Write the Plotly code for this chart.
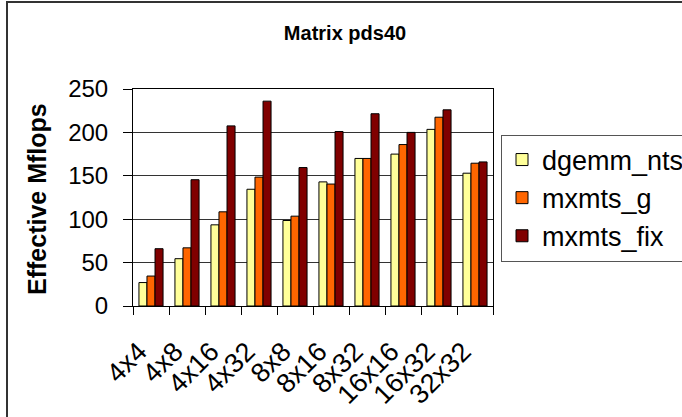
import plotly.graph_objects as go

# Blocking sizes and effective Mflop rates for matrix pds40
categories = ["4x4", "4x8", "4x16", "4x32", "8x8", "8x16", "8x32", "16x16", "16x32", "32x32"]
dgemm_nts = [27, 54.5, 93.5, 134.5, 98.5, 143, 170, 175, 203.5, 153]
mxmts_g = [34.5, 67, 108.5, 148.5, 103.5, 140.5, 170, 186, 217.5, 164.5]
mxmts_fix = [66, 145.5, 207.5, 236, 159.5, 201, 221.5, 200, 226, 166]

series = [
    ("dgemm_nts", dgemm_nts, "#FFFF99"),
    ("mxmts_g", mxmts_g, "#FF6600"),
    ("mxmts_fix", mxmts_fix, "#800000"),
]

W, H = 682, 417
L, R, T, B = 133, 493, 89, 306  # plot area in pixels


def px_x(x):
    return (x - L) / (R - L)


def px_y(y):
    return (B - y) / (B - T)


FONT = "Liberation Sans, Arial, sans-serif"

fig = go.Figure()
for name, vals, color in series:
    fig.add_trace(go.Bar(
        x=categories, y=vals, name=name,
        marker=dict(color=color, line=dict(color="black", width=1)),
    ))

fig.update_layout(
    width=W, height=H,
    margin=dict(l=L, r=W - R, t=T, b=H - B, autoexpand=False),
    paper_bgcolor="white", plot_bgcolor="white",
    font=dict(family=FONT, color="black"),
    barmode="group", bargap=0.33, bargroupgap=0,
    title=dict(text="<b>Matrix pds40</b>", font=dict(size=20, family=FONT),
               x=345 / W, xref="container", xanchor="center",
               y=1 - 33 / H, yref="container", yanchor="middle"),
    showlegend=True,
    legend=dict(x=px_x(501), y=px_y(198), xanchor="left", yanchor="middle",
                bordercolor="#555", borderwidth=1, bgcolor="white",
                font=dict(size=27, family=FONT), tracegroupgap=0,
                itemwidth=30),
    xaxis=dict(
        type="category", showline=True, linecolor="black", linewidth=1,
        mirror=True, ticks="outside", tickson="boundaries", ticklen=8,
        tickcolor="black", tickangle=-45, tickfont=dict(size=27, family=FONT),
        ticklabelstandoff=18, ticklabelshift=-12,
        showgrid=False,
    ),
    yaxis=dict(
        range=[0, 250], tickvals=[0, 50, 100, 150, 200, 250],
        showline=True, linecolor="black", linewidth=1, mirror=True,
        ticks="outside", ticklen=9, tickcolor="black",
        ticklabelstandoff=10,
        tickfont=dict(size=24, family=FONT),
        showgrid=True, gridcolor="#333", gridwidth=1,
        zeroline=False,
    ),
)

# Y-axis title
fig.add_annotation(
    text="<b>Effective Mflops</b>", textangle=-90,
    x=px_x(37), y=px_y(199), xref="paper", yref="paper",
    xanchor="center", yanchor="middle", showarrow=False,
    font=dict(size=25, family=FONT),
)

# Outer chart frame
fig.add_shape(
    type="rect", xref="paper", yref="paper",
    x0=px_x(7), x1=px_x(W + 20), y0=px_y(2), y1=px_y(H + 20),
    line=dict(color="#333", width=2), fillcolor="rgba(0,0,0,0)",
    layer="below",
)

fig.write_html("out.html")
